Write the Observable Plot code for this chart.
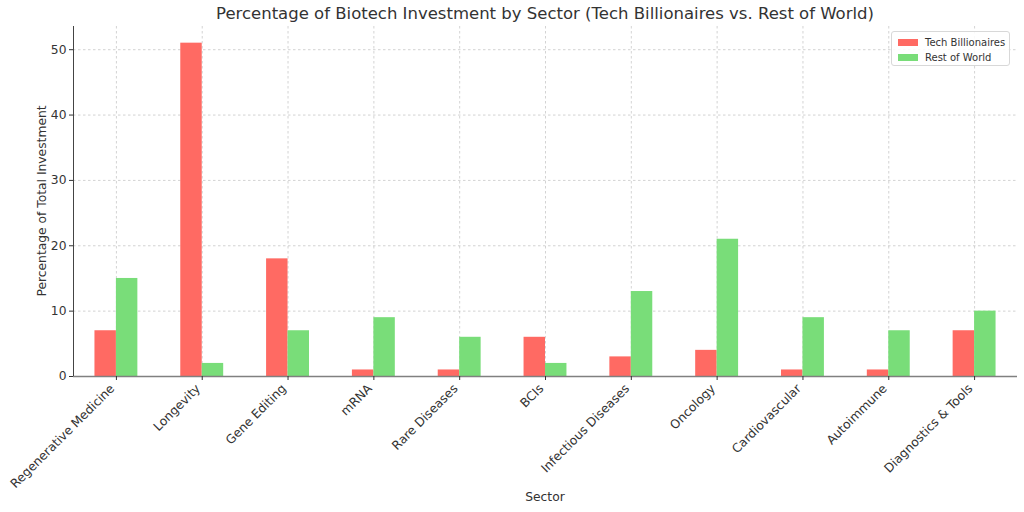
<!DOCTYPE html>
<html><head><meta charset="utf-8">
<script src="https://cdn.jsdelivr.net/npm/d3@7"></script>
<script src="https://cdn.jsdelivr.net/npm/@observablehq/plot@0.6"></script>
<style>
body{margin:0;background:#fff;font-family:"DejaVu Sans",sans-serif;}
#wrap{position:relative;width:1024px;height:512px;overflow:hidden;}
#title{position:absolute;left:73px;width:944px;top:4px;text-align:center;font-size:16.5px;color:#333;white-space:nowrap;}
#ylabel{position:absolute;left:42px;top:201px;transform:translate(-50%,-50%) rotate(-90deg);font-size:12.3px;color:#333;white-space:nowrap;}
#xlabel{position:absolute;left:545px;top:497px;transform:translate(-50%,-50%);font-size:12.3px;color:#333;}
#legend{position:absolute;left:891px;top:31px;width:119px;height:35px;border:1px solid #d8d8d8;border-radius:3px;background:rgba(255,255,255,0.85);font-size:10px;color:#333;box-sizing:border-box;}
.item{position:absolute;left:6px;height:12px;display:flex;align-items:center;white-space:nowrap;}
.sw{width:20px;height:7px;margin-right:7px;}
svg{position:absolute;left:0;top:0;}
</style></head><body>
<div id="wrap">
<div id="chart"></div>
<div id="title"></div>
<div id="ylabel"></div>
<div id="xlabel"></div>
<div id="legend"></div>
</div>
<script>
const titleText = "Percentage of Biotech Investment by Sector (Tech Billionaires vs. Rest of World)";
const xLabel = "Sector";
const yLabel = "Percentage of Total Investment";
const sectors = ["Regenerative Medicine","Longevity","Gene Editing","mRNA","Rare Diseases","BCIs","Infectious Diseases","Oncology","Cardiovascular","Autoimmune","Diagnostics & Tools"];
const techBillionaires = [7,51,18,1,1,6,3,4,1,1,7];
const restOfWorld = [15,2,7,9,6,2,13,21,9,7,10];
const seriesNames = ["Tech Billionaires","Rest of World"];
const seriesColors = ["#ff6a63","#79dd79"];
const yTicks = [0,10,20,30,40,50];

const barWidth = 0.25;
const idx = d3.range(sectors.length);
const rows = [];
idx.forEach(i => {
  rows.push({sector: sectors[i], series: seriesNames[0], value: techBillionaires[i], x1: i - barWidth, x2: i});
  rows.push({sector: sectors[i], series: seriesNames[1], value: restOfWorld[i], x1: i, x2: i + barWidth});
});
const yMax = d3.max(rows, d => d.value) * 1.05;
const gridStyle = {stroke: "#b0b0b0", strokeOpacity: 0.7, strokeWidth: 0.8, strokeDasharray: "2.5,2.5"};

const chart = Plot.plot({
  width: 1024, height: 512,
  marginTop: 26, marginBottom: 136, marginLeft: 73, marginRight: 7,
  style: {fontFamily: "DejaVu Sans", fontSize: "12px", color: "#333", background: "transparent"},
  x: {domain: [-0.5, sectors.length - 0.5]},
  y: {domain: [0, yMax]},
  color: {domain: seriesNames, range: seriesColors},
  marks: [
    Plot.ruleY(yTicks.slice(1), gridStyle),
    Plot.ruleX(idx, gridStyle),
    Plot.rectY(rows, {x1: "x1", x2: "x2", y: "value", fill: "series"}),
    Plot.ruleY([0], {stroke: "#808080", strokeWidth: 1.6}),
    Plot.ruleX([-0.5], {stroke: "#444", strokeWidth: 1}),
    Plot.axisY({ticks: yTicks, tickSize: 4, tickPadding: 3, label: null, fontSize: 12.3}),
    Plot.axisX({ticks: idx, tickSize: 4, label: null, text: null}),
    Plot.axisX({ticks: idx, tickSize: 0, tickPadding: 7, tickFormat: i => sectors[i], tickRotate: -45, label: null, fontSize: 12.3, dx: -4, dy: 3})
  ]
});
document.getElementById("chart").appendChild(chart);
document.getElementById("title").textContent = titleText;
document.getElementById("xlabel").textContent = xLabel;
document.getElementById("ylabel").textContent = yLabel;
const leg = document.getElementById("legend");
seriesNames.forEach((s, k) => {
  const it = document.createElement("div");
  it.className = "item";
  it.style.top = (4 + k * 15) + "px";
  const sw = document.createElement("div");
  sw.className = "sw";
  sw.style.background = seriesColors[k];
  it.appendChild(sw);
  it.appendChild(document.createTextNode(s));
  leg.appendChild(it);
});
</script>
</body></html>
